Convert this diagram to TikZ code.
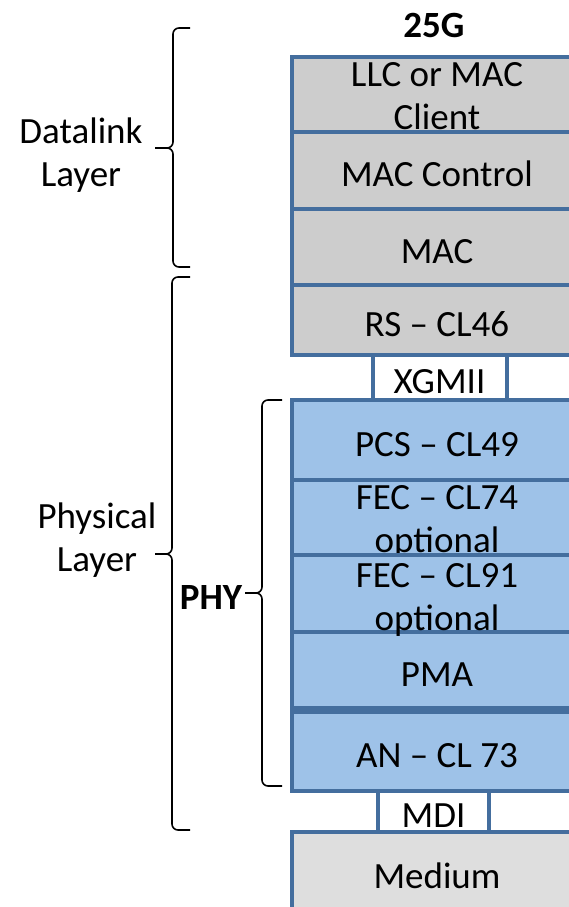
\documentclass[tikz,border=0pt]{standalone}
\usepackage{fontspec}
\setmainfont{Carlito}

\definecolor{stackline}{RGB}{68,110,158}
\definecolor{upperfill}{RGB}{205,205,205}
\definecolor{phyfill}{RGB}{158,194,232}
\definecolor{mediumfill}{RGB}{222,222,222}

\begin{document}
\begin{tikzpicture}[x=1pt,y=-1pt,
        every node/.style={font=\fontsize{37}{43}\selectfont},
        layer/.style={draw=stackline,line width=4pt,minimum width=290pt,inner sep=0pt,
            text height=32pt,text depth=0pt},
        graylayer/.style={layer,fill=upperfill},
        bluelayer/.style={layer,fill=phyfill},
        port/.style={layer,fill=white},
        twoline/.style={align=center,inner sep=0pt},
        layerbrace/.style={line width=1.6pt,rounded corners=6pt}]
    \useasboundingbox (0,0) rectangle (569,907);
    \clip (0,0) rectangle (569,907);

    % upper part of the stack
    \node (rate) at (434,25) {\bfseries 25G};
    \node[graylayer,minimum height=75pt] (llc) at (437,94.5) {};
    \node[twoline] (llctext) at ([yshift=-2pt]llc.center) {LLC or MAC\\Client};
    \node[graylayer,minimum height=77pt] (macctrl) at (437,170.5) {MAC Control};
    \node[graylayer,minimum height=76pt] (mac) at (437,247) {MAC};
    \node[graylayer,minimum height=70pt] (rs) at (437,320) {RS -- CL46};
    \node[port,minimum width=134pt,minimum height=45pt] (xgmii) at (439.5,377.5) {XGMII};

    % PHY sublayers
    \node[bluelayer,minimum height=80pt] (pcs) at (437,440) {PCS -- CL49};
    \node[bluelayer,minimum height=75pt] (fecA) at (437,517.5) {};
    \node[twoline] (fecAtext) at ([yshift=-4pt]fecA.center) {FEC -- CL74\\optional};
    \node[bluelayer,minimum height=77pt] (fecB) at (437,593.5) {};
    \node[bluelayer,minimum height=76pt] (pma) at (437,670) {PMA};
    \node[twoline] (fecBtext) at ([yshift=-6pt]fecB.center) {FEC -- CL91\\optional};
    \node[bluelayer,minimum height=79pt] (an) at (437,751.5) {AN -- CL 73};
    \node[port,minimum width=111pt,minimum height=41pt] (mdi) at (433.5,811.5) {MDI};
    \node[layer,fill=mediumfill,minimum height=80pt] (medium) at (437,872) {Medium};

    % braces on the left
    \draw[layerbrace] (190,28) -| (173,148) -- (155,148);
    \draw[layerbrace] (190,267) -| (173,148) -- (155,148);
    \node[twoline] (datalink) at (81,155.5) {Datalink\\Layer};

    \draw[layerbrace] (190,277) -| (172,554) -- (155,554);
    \draw[layerbrace] (190,830) -| (172,554) -- (155,554);
    \node[twoline] (physical) at (97,540.5) {Physical\\Layer};

    \draw[layerbrace] (282,400) -| (262,593) -- (245,593);
    \draw[layerbrace] (282,786) -| (262,593) -- (245,593);
    \node (phy) at (211,597.5) {\bfseries PHY};
\end{tikzpicture}
\end{document}
